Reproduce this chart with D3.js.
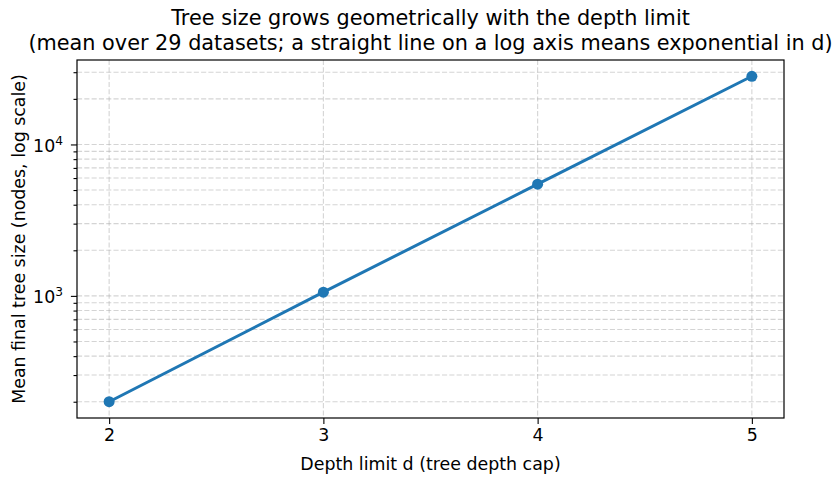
<!DOCTYPE html>
<html>
<head>
<meta charset="utf-8">
<script src="https://cdn.jsdelivr.net/npm/d3@7"></script>
<style>
  body { margin: 0; background: #fff; }
  text { font-family: "DejaVu Sans", sans-serif; fill: #000; }
</style>
</head>
<body>
<div id="chart"></div>
<script>
// Mean tree size per depth limit
const depths = [2, 3, 4, 5];
const meanSizes = [200, 1058, 5470, 28200];
const xTicks = [2, 3, 4, 5];

const W = 840, H = 482;
const margin = {top: 60, right: 56, bottom: 64, left: 77};
const width = W - margin.left - margin.right,
      height = H - margin.top - margin.bottom;

const svg = d3.select("#chart").append("svg")
    .attr("width", W).attr("height", H);

const g = svg.append("g")
    .attr("transform", `translate(${margin.left},${margin.top})`);

// matplotlib-like 5% margins
const x = d3.scaleLinear().domain([1.85, 5.15]).range([0, width]);
const lmin = Math.log10(d3.min(meanSizes)), lmax = Math.log10(d3.max(meanSizes));
const pad = (lmax - lmin) * 0.05;
const y = d3.scaleLog()
    .domain([Math.pow(10, lmin - pad), Math.pow(10, lmax + pad)])
    .range([height, 0]);

// gridlines (major + minor on y)
const [y0, y1] = y.domain();
const yAll = [];
for (let e = Math.floor(Math.log10(y0)); e <= Math.ceil(Math.log10(y1)); e++) {
    for (let m = 1; m <= 9; m++) {
        const v = m * Math.pow(10, e);
        if (v >= y0 && v <= y1) yAll.push(v);
    }
}
const yMajor = yAll.filter(v => Math.abs(Math.log10(v) - Math.round(Math.log10(v))) < 1e-9);

const gridStyle = sel => sel
    .attr("stroke", "#b0b0b0").attr("stroke-opacity", 0.55)
    .attr("stroke-width", 1.1).attr("stroke-dasharray", "5.1,2.2");

g.append("g").selectAll("line")
    .data(yAll).enter().append("line")
    .attr("x1", 0).attr("x2", width)
    .attr("y1", d => y(d)).attr("y2", d => y(d))
    .call(gridStyle);

g.append("g").selectAll("line")
    .data(xTicks).enter().append("line")
    .attr("x1", d => x(d)).attr("x2", d => x(d))
    .attr("y1", 0).attr("y2", height)
    .call(gridStyle);

// Axes
const xAxis = g.append("g")
    .attr("transform", `translate(0,${height})`)
    .call(d3.axisBottom(x).tickValues(xTicks).tickFormat(d3.format("d"))
        .tickSizeOuter(0).tickSize(6.1).tickPadding(5));
xAxis.select(".domain").remove();

const yMinorAxis = g.append("g")
    .call(d3.axisLeft(y).tickValues(yAll.filter(v => !yMajor.includes(v))).tickFormat("").tickSizeOuter(0).tickSize(3.5));
yMinorAxis.select(".domain").remove();

const yAxis = g.append("g")
    .call(d3.axisLeft(y).tickValues(yMajor).tickFormat("").tickSizeOuter(0).tickSize(6.1));
yAxis.select(".domain").remove();

g.selectAll(".tick line").attr("stroke", "#000").attr("stroke-width", 1.1);
xAxis.selectAll("text").style("font-size", "17.4px").style("font-family", "DejaVu Sans").attr("fill", "#000");

// y major labels as 10^n
yMajor.forEach(v => {
    const t = g.append("text")
        .attr("x", -14).attr("y", y(v)).attr("dy", "0.42em")
        .attr("text-anchor", "end").style("font-size", "17.4px");
    t.append("tspan").text("10");
    t.append("tspan").attr("dy", "-0.55em").style("font-size", "12.2px")
        .text(Math.round(Math.log10(v)));
});

// frame
g.append("rect").attr("width", width).attr("height", height)
    .attr("fill", "none").attr("stroke", "#000").attr("stroke-width", 1.2);

// line + markers
const pts = depths.map((d, i) => ({d, v: meanSizes[i]}));
g.append("path").datum(pts)
    .attr("fill", "none").attr("stroke", "#1f77b4").attr("stroke-width", 3)
    .attr("d", d3.line().x(p => x(p.d)).y(p => y(p.v)));
g.selectAll(".pt").data(pts).enter().append("circle")
    .attr("cx", p => x(p.d)).attr("cy", p => y(p.v)).attr("r", 5.5)
    .attr("fill", "#1f77b4");

// Titles and labels
svg.append("text").attr("x", margin.left + width / 2).attr("y", 25)
    .attr("text-anchor", "middle").style("font-size", "20.8px")
    .text("Tree size grows geometrically with the depth limit");
svg.append("text").attr("x", margin.left + width / 2).attr("y", 50)
    .attr("text-anchor", "middle").style("font-size", "20.8px")
    .text("(mean over 29 datasets; a straight line on a log axis means exponential in d)");

svg.append("text").attr("x", margin.left + width / 2).attr("y", 470)
    .attr("text-anchor", "middle").style("font-size", "17.4px")
    .text("Depth limit d (tree depth cap)");

svg.append("text")
    .attr("transform", `translate(25,${margin.top + height / 2}) rotate(-90)`)
    .attr("text-anchor", "middle").style("font-size", "17.4px")
    .text("Mean final tree size (nodes, log scale)");
</script>
</body>
</html>
